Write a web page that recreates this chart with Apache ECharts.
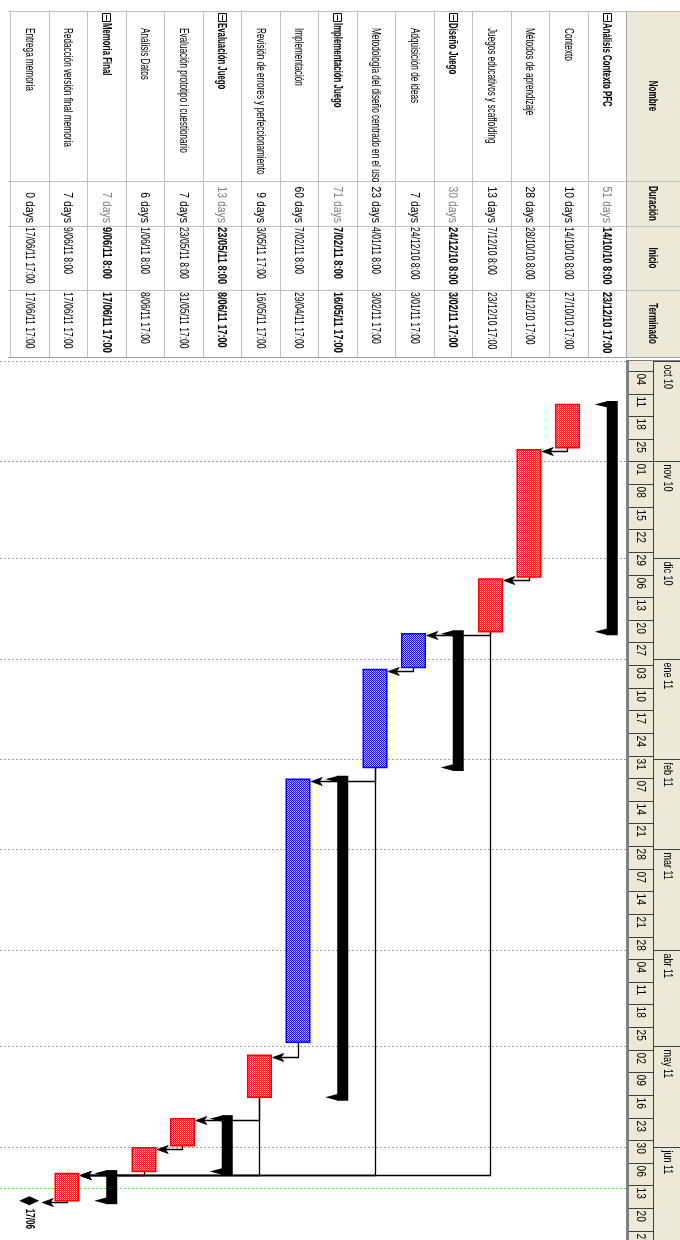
<!DOCTYPE html>
<html><head><meta charset="utf-8">
<script src="https://cdn.jsdelivr.net/npm/echarts@6/dist/echarts.min.js"></script>
<style>html,body{margin:0;padding:0;background:#fff}#c{width:680px;height:1240px}</style>
</head><body><div id="c"></div>
<script>
// ---------------- data ----------------
const taskNames = ['Análisis Contexto PFC','Contexto','Métodos de aprendizaje','Juegos educativos y scaffolding','Diseño Juego','Adquisición de ideas','Metodología del diseño centrado en el uso','Implementación Juego','Implementación','Revisión de errores y perfeccionamiento','Evaluación Juego','Evaluación prototipo i cuestionario','Análisis Datos','Memoria Final','Redacción versión final memoria','Entrega memoria'];
const durations = ['51 days','10 days','28 days','13 days','30 days','7 days','23 days','71 days','60 days','9 days','13 days','7 days','6 days','7 days','7 days','0 days'];
const starts = ['14/10/10 8:00','14/10/10 8:00','28/10/10 8:00','7/12/10 8:00','24/12/10 8:00','24/12/10 8:00','4/01/11 8:00','7/02/11 8:00','7/02/11 8:00','3/05/11 17:00','23/05/11 8:00','23/05/11 8:00','1/06/11 8:00','9/06/11 8:00','9/06/11 8:00','17/06/11 17:00'];
const finishes = ['23/12/10 17:00','27/10/10 17:00','6/12/10 17:00','23/12/10 17:00','3/02/11 17:00','3/01/11 17:00','3/02/11 17:00','16/05/11 17:00','29/04/11 17:00','16/05/11 17:00','8/06/11 17:00','31/05/11 17:00','8/06/11 17:00','17/06/11 17:00','17/06/11 17:00','17/06/11 17:00'];
const taskTypes = ['summary','critical','critical','critical','summary','normal','normal','summary','normal','critical','summary','critical','critical','summary','critical','milestone'];
const links = [[1,2],[2,3],[3,5],[3,14],[5,6],[6,8],[6,14],[8,9],[9,11],[9,14],[11,12],[12,14],[14,15]];
const columnHeaders = ['Nombre','Duración','Inicio','Terminado'];
const weekStarts = ['04/10/10','11/10/10','18/10/10','25/10/10','01/11/10','08/11/10','15/11/10','22/11/10','29/11/10','06/12/10','13/12/10','20/12/10','27/12/10','03/01/11','10/01/11','17/01/11','24/01/11','31/01/11','07/02/11','14/02/11','21/02/11','28/02/11','07/03/11','14/03/11','21/03/11','28/03/11','04/04/11','11/04/11','18/04/11','25/04/11','02/05/11','09/05/11','16/05/11','23/05/11','30/05/11','06/06/11','13/06/11','20/06/11','27/06/11'];
const weekLabels = ['04','11','18','25','01','08','15','22','29','06','13','20','27','03','10','17','24','31','07','14','21','28','07','14','21','28','04','11','18','25','02','09','16','23','30','06','13','20','27'];
const monthStarts = ['01/10/10','01/11/10','01/12/10','01/01/11','01/02/11','01/03/11','01/04/11','01/05/11','01/06/11'];
const monthLabels = ['oct 10','nov 10','dic 10','ene 11','feb 11','mar 11','abr 11','may 11','jun 11'];
const currentDate = '13/06/11 19:00';
const milestoneLabel = '17/06';
const timescaleStart = '30/09/10 14:18';
const timescaleEnd = '29/06/11 21:00';

// ---------------- helpers ----------------
function t(s){const p=s.split(' ');const d=p[0].split('/').map(Number);let h=0,mi=0;if(p[1]){const q=p[1].split(':').map(Number);h=q[0];mi=q[1];}return Date.UTC(2000+d[2],d[1]-1,d[0],h,mi);}
const T0=t(timescaleStart), T1=t(timescaleEnd);
const ROWS=taskNames.length;
const FONT='"Liberation Sans", Arial, sans-serif';
const HEADER_X=626, TABLE_TOP=11, TABLE_BOTTOM=357, CHART_TOP=360;
const COLS=[TABLE_TOP,181,226,290,TABLE_BOTTOM];
function vtext(x,y,text,o){o=o||{};return {type:'text',x:x,y:y,rotation:-Math.PI/2,scaleX:o.sx||0.62,scaleY:1,style:{text:text,fill:o.color||'#000',fontSize:o.size||13,fontFamily:o.family||FONT,fontWeight:o.weight||'normal',align:o.align||'left',textAlign:o.align||'left',verticalAlign:'middle',textVerticalAlign:'middle'}};}
function pattern(c1,c2){const cv=document.createElement('canvas');cv.width=2;cv.height=2;const g=cv.getContext('2d');g.fillStyle=c2;g.fillRect(0,0,2,2);g.fillStyle=c1;g.fillRect(0,0,1,1);g.fillRect(1,1,1,1);return {image:cv,repeat:'repeat'};}
const redFill=pattern('#ff1010','#ffc0c0');
const blueFill=pattern('#1010ff','#c0c0ff');

const chart=echarts.init(document.getElementById('c'),null,{renderer:'canvas'});
function rowC(api,i){return (api.coord([i,T0])[0]+api.coord([i+1,T0])[0])/2;}

const option={
  animation:false,
  backgroundColor:'#ffffff',
  grid:{left:10,right:680-HEADER_X,top:CHART_TOP,bottom:0,containLabel:false},
  xAxis:{type:'value',min:0,max:ROWS,inverse:true,show:false},
  yAxis:{type:'value',min:T0,max:T1,inverse:true,show:false},
  graphic:{elements:[
    {type:'rect',z:0,shape:{x:HEADER_X,y:TABLE_TOP,width:680-HEADER_X,height:TABLE_BOTTOM-TABLE_TOP},style:{fill:'#ECE9D8'}},
    {type:'rect',z:0,shape:{x:HEADER_X,y:CHART_TOP,width:680-HEADER_X,height:1240-CHART_TOP},style:{fill:'#ECE9D8'}},
    {type:'line',z:5,shape:{x1:8,y1:TABLE_TOP+0.5,x2:680,y2:TABLE_TOP+0.5},style:{stroke:'#C0C0C0',lineWidth:1}},
    {type:'line',z:5,shape:{x1:8,y1:TABLE_BOTTOM+0.5,x2:680,y2:TABLE_BOTTOM+0.5},style:{stroke:'#A0A0A0',lineWidth:1}},
    {type:'line',z:5,shape:{x1:8,y1:COLS[1]+0.5,x2:680,y2:COLS[1]+0.5},style:{stroke:'#C0C0C0',lineWidth:1}},
    {type:'line',z:5,shape:{x1:8,y1:COLS[2]+0.5,x2:680,y2:COLS[2]+0.5},style:{stroke:'#C0C0C0',lineWidth:1}},
    {type:'line',z:5,shape:{x1:8,y1:COLS[3]+0.5,x2:680,y2:COLS[3]+0.5},style:{stroke:'#C0C0C0',lineWidth:1}},
    {type:'line',z:5,shape:{x1:HEADER_X+0.5,y1:TABLE_TOP,x2:HEADER_X+0.5,y2:TABLE_BOTTOM},style:{stroke:'#ACA899',lineWidth:1}},
    {type:'line',z:5,shape:{x1:HEADER_X+1.5,y1:CHART_TOP,x2:HEADER_X+1.5,y2:1240},style:{stroke:'#808080',lineWidth:3}},
    {type:'line',z:5,shape:{x1:653.5,y1:CHART_TOP,x2:653.5,y2:1240},style:{stroke:'#404040',lineWidth:1}},
    {type:'line',z:5,shape:{x1:HEADER_X,y1:CHART_TOP+0.5,x2:680,y2:CHART_TOP+0.5},style:{stroke:'#808080',lineWidth:1}}
  ]},
  series:[
    {type:'custom',z:2,data:monthStarts.map(s=>[t(s)]),renderItem:function(params,api){
      const y=Math.round(api.coord([0,api.value(0)])[1])+0.5;
      return {type:'line',shape:{x1:0,y1:y,x2:HEADER_X,y2:y},style:{stroke:'#A0A0A0',lineWidth:1,lineDash:[2,2]}};
    }},
    {type:'custom',z:2,data:[[t(currentDate)]],renderItem:function(params,api){
      const y=Math.round(api.coord([0,api.value(0)])[1])+0.5;
      return {type:'line',shape:{x1:0,y1:y,x2:HEADER_X,y2:y},style:{stroke:'#33ff33',lineWidth:1,lineDash:[2,2]}};
    }},
    {type:'custom',z:3,data:links.map(l=>[l[0],t(finishes[l[0]]),l[1],t(starts[l[1]])]),renderItem:function(params,api){
      const fi=api.value(0), ti=api.value(2);
      const fx=Math.round(rowC(api,fi))-0.5;
      const fy=api.coord([fi,api.value(1)])[1];
      const tc=rowC(api,ti);
      const ty=Math.round(api.coord([ti,api.value(3)])[1]+1.5)+0.5;
      const tip=taskTypes[ti]==='milestone'?tc+13:tc+12.5;
      return {type:'group',children:[
        {type:'polyline',shape:{points:[[fx,fy],[fx,ty],[tip+6,ty]]},style:{stroke:'#000',lineWidth:1.3,fill:null}},
        {type:'polygon',shape:{points:[[tip,ty],[tip+11,ty-4],[tip+8,ty],[tip+11,ty+4]]},style:{fill:'#000',stroke:'#000',lineWidth:0.8}}
      ]};
    }},
    {type:'custom',z:4,data:taskNames.map((n,i)=>[i,t(starts[i]),t(finishes[i])]),renderItem:function(params,api){
      const i=api.value(0), kind=taskTypes[i];
      const c=rowC(api,i);
      const y0=api.coord([i,api.value(1)])[1], y1=api.coord([i,api.value(2)])[1];
      if(kind==='summary'){
        const B=c, R=c+11, L=c-12;
        return {type:'group',children:[
          {type:'rect',shape:{x:B,y:y0-3.5,width:R-B,height:y1-y0+7},style:{fill:'#000'}},
          {type:'polygon',shape:{points:[[B+1,y0-3.5],[B+1,y0+3],[L,y0]]},style:{fill:'#000'}},
          {type:'polygon',shape:{points:[[B+1,y1-3.5],[B+1,y1+3.5],[L,y1]]},style:{fill:'#000'}}
        ]};
      }
      if(kind==='milestone'){
        return {type:'group',children:[
          {type:'polygon',shape:{points:[[c-10,y0],[c,y0-4.5],[c+10,y0],[c,y0+4.5]]},style:{fill:'#000'}},
          vtext(c,y0+8,milestoneLabel,{size:12,sx:0.68,weight:'bold'})
        ]};
      }
      const crit=kind==='critical';
      return {type:'rect',shape:{x:c-12.5,y:y0,width:23.5,height:y1-y0},style:{fill:crit?redFill:blueFill,stroke:crit?'#ff0000':'#0000ff',lineWidth:1.5}};
    }},
    {type:'custom',z:6,data:taskNames.map((n,i)=>[i]),renderItem:function(params,api){
      const i=api.value(0), kind=taskTypes[i], sum=kind==='summary';
      const xl=api.coord([i+1,T0])[0], xr=api.coord([i,T0])[0];
      const c=(xl+xr)/2;
      const ch=[];
      ch.push({type:'line',shape:{x1:Math.round(xl)+0.5,y1:TABLE_TOP,x2:Math.round(xl)+0.5,y2:TABLE_BOTTOM},style:{stroke:'#C0C0C0',lineWidth:1}});
      if(sum){
        ch.push({type:'rect',shape:{x:Math.round(c)-3.5,y:13.5,width:8,height:8},style:{fill:'#fff',stroke:'#000',lineWidth:1}});
        ch.push({type:'line',shape:{x1:Math.round(c)+0.5,y1:15,x2:Math.round(c)+0.5,y2:20.5},style:{stroke:'#000',lineWidth:1}});
        ch.push(vtext(c,23,taskNames[i],{weight:'bold',sx:0.6}));
      } else {
        ch.push(vtext(c,28,taskNames[i],{sx:0.63}));
      }
      ch.push(vtext(c,COLS[2]-3,durations[i],{align:'right',sx:0.8,color:sum?'#808080':'#000'}));
      ch.push(vtext(c,COLS[2]+1,starts[i],{weight:sum?'bold':'normal',sx:sum?0.72:0.66}));
      ch.push(vtext(c,COLS[3]+2,finishes[i],{weight:sum?'bold':'normal',sx:sum?0.7:0.66}));
      return {type:'group',children:ch};
    }},
    {type:'custom',z:6,data:columnHeaders.map((h,k)=>[k]),renderItem:function(params,api){
      const k=api.value(0);
      return vtext(653,(COLS[k]+COLS[k+1])/2,columnHeaders[k],{weight:'bold',align:'center',sx:0.62});
    }},
    {type:'custom',z:6,data:weekStarts.map((s,k)=>[t(s),k]),renderItem:function(params,api){
      const y=Math.round(api.coord([0,api.value(0)])[1])+0.5;
      return {type:'group',children:[
        {type:'line',shape:{x1:HEADER_X+3,y1:y,x2:653,y2:y},style:{stroke:'#404040',lineWidth:1}},
        vtext(640.5,y+2,weekLabels[api.value(1)],{size:12,sx:0.85})
      ]};
    }},
    {type:'custom',z:6,data:monthStarts.map((s,k)=>[t(s),k]),renderItem:function(params,api){
      const y=Math.max(Math.round(api.coord([0,api.value(0)])[1])+0.5,CHART_TOP);
      return {type:'group',children:[
        {type:'line',shape:{x1:653,y1:y,x2:680,y2:y},style:{stroke:'#404040',lineWidth:1}},
        vtext(667,y+3,monthLabels[api.value(1)],{size:12,sx:0.75})
      ]};
    }}
  ]
};
chart.setOption(option);
</script>
</body></html>
